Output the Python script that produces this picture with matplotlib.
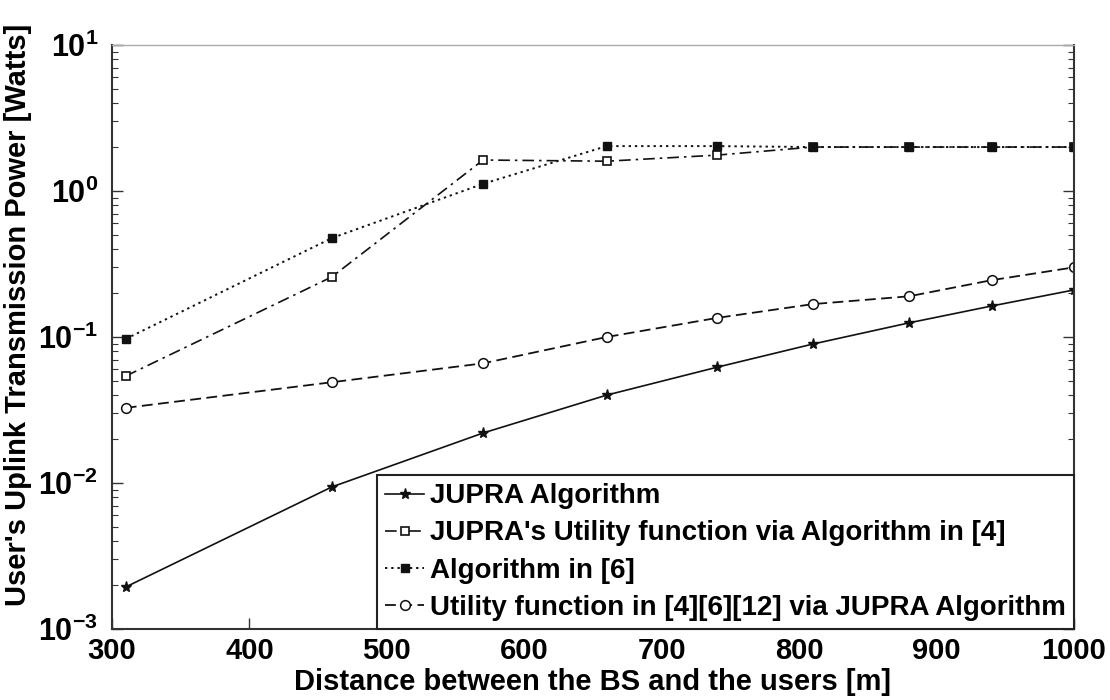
import numpy as np
import matplotlib
matplotlib.use("Agg")
import matplotlib.pyplot as plt
from matplotlib.ticker import LogLocator, FuncFormatter, NullFormatter

plt.rcParams['font.family'] = ['Liberation Sans', 'DejaVu Sans']
plt.rcParams['mathtext.fontset'] = 'custom'
plt.rcParams['mathtext.rm'] = 'Liberation Sans:bold'
plt.rcParams['mathtext.bf'] = 'Liberation Sans:bold'
plt.rcParams['mathtext.default'] = 'bf'

# відстань між БС та користувачами, м
distance = [310, 460, 570, 660, 740, 810, 880, 940, 1000]

# потужність передачі, Вт
p_jupra = [0.00194, 0.0094, 0.022, 0.040, 0.062, 0.0895, 0.125, 0.163, 0.21]
p_jupra_alg4 = [0.054, 0.258, 1.63, 1.60, 1.76, 2.0, 2.0, 2.0, 2.0]
p_alg6 = [0.097, 0.476, 1.12, 2.03, 2.03, 2.0, 2.0, 2.0, 2.0]
p_util_jupra = [0.0327, 0.049, 0.066, 0.10, 0.135, 0.168, 0.19, 0.245, 0.30]

labels = ["JUPRA Algorithm",
          "JUPRA's Utility function via Algorithm in [4]",
          "Algorithm in [6]",
          "Utility function in [4][6][12] via JUPRA Algorithm"]

x_ticks = [300, 400, 500, 600, 700, 800, 900, 1000]

fig = plt.figure(figsize=(11.1, 7.0), dpi=100)
ax = fig.add_axes([112 / 1110, 71 / 700, 962 / 1110, 584 / 700])

col = "#111111"
ax.plot(distance, p_jupra, "-", color=col, lw=1.2, marker="*", ms=8,
        mfc=col, mec=col, label=labels[0])
ax.plot(distance, p_jupra_alg4, color=col, lw=1.2, dashes=(7, 3, 1.5, 3),
        marker="s", ms=6, mfc="white", mec=col, mew=1.2, label=labels[1])
ax.plot(distance, p_alg6, color=col, lw=1.4, dashes=(1.2, 2),
        marker="s", ms=6, mfc=col, mec=col, label=labels[2])
ax.plot(distance, p_util_jupra, color=col, lw=1.3, dashes=(6, 3),
        marker="o", ms=7, mfc="white", mec=col, mew=1.1, label=labels[3])

ax.set_yscale("log")
ax.set_xlim(300, 1000)
ax.set_ylim(1e-3, 1e1)
ax.set_xticks(x_ticks)
ax.set_xticklabels([str(t) for t in x_ticks], fontsize=21, fontweight="bold")
ax.yaxis.set_major_locator(LogLocator(base=10, numticks=10))
ax.yaxis.set_minor_locator(LogLocator(base=10, subs=np.arange(2, 10), numticks=10))
ax.yaxis.set_major_formatter(FuncFormatter(lambda v, p: r"$10^{%d}$" % round(np.log10(v))))
ax.yaxis.set_minor_formatter(NullFormatter())

ax.tick_params(axis="both", which="both", direction="in", right=True, top=False,
               color="#333333")
ax.tick_params(axis="both", which="major", length=8, width=1)
ax.tick_params(axis="both", which="minor", length=4, width=0.8)
ax.tick_params(axis="y", which="major", labelsize=22, pad=10)
ax.tick_params(axis="x", which="major", pad=6)

for s in ["left", "right", "bottom"]:
    ax.spines[s].set_color("#333333")
    ax.spines[s].set_linewidth(1.5)
ax.spines["top"].set_color("#aaaaaa")
ax.spines["top"].set_linewidth(1.0)

ax.set_xlabel("Distance between the BS and the users [m]", fontsize=21,
              fontweight="bold", va="top")
ax.xaxis.set_label_coords(0.5, -0.067)
ax.set_ylabel("User's Uplink Transmission Power [Watts]", fontsize=21,
              fontweight="bold")
ax.yaxis.set_label_coords(-0.083, 0.538)

leg = ax.legend(loc="lower right", bbox_to_anchor=(1, 0), borderaxespad=0,
                fancybox=False, framealpha=1, edgecolor="#222222",
                prop={"size": 20, "weight": "bold"}, handlelength=1.4,
                handletextpad=0.2, labelspacing=0.4, borderpad=0.3)
leg.get_frame().set_linewidth(1.5)

fig.savefig("out.png", dpi=100)
